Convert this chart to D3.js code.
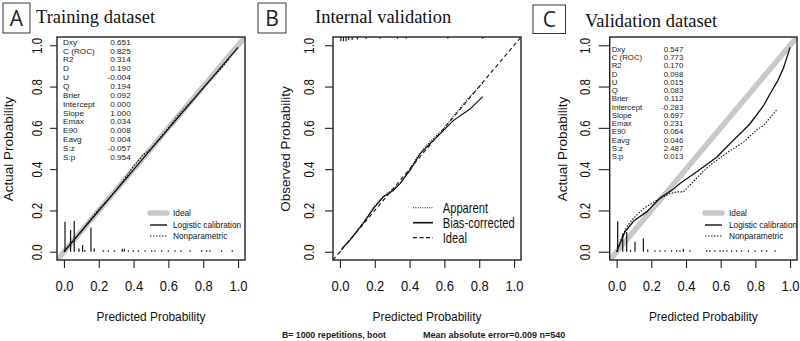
<!DOCTYPE html>
<html><head><meta charset="utf-8">
<script src="https://cdn.jsdelivr.net/npm/d3@7"></script>
<style>body{margin:0;background:#fff}</style>
</head><body>
<svg id="c" width="800" height="341" xmlns="http://www.w3.org/2000/svg"></svg>
<script>
// ---------------- data ----------------
const tickValues = [0, 0.2, 0.4, 0.6, 0.8, 1.0];
const statLabels = ["Dxy","C (ROC)","R2","D","U","Q","Brier","Intercept","Slope","Emax","E90","Eavg","S:z","S:p"];
const statsTrain = ["0.651","0.825","0.314","0.190","-0.004","0.194","0.092","0.000","1.000","0.034","0.008","0.004","-0.057","0.954"];
const statsValid = ["0.547","0.773","0.170","0.098","0.015","0.083","0.112","-0.283","0.697","0.231","0.064","0.046","2.487","0.013"];

const idealLine = [[-0.04,-0.04],[1.04,1.04]];

// Panel A: training
const trainLogistic = [[0.0,0.0],[0.5,0.497],[1.0,0.99]];
const trainNonpar = [[0,0],[0.05,0.05],[0.1,0.1],[0.15,0.155],[0.2,0.205],[0.25,0.25],[0.3,0.3],[0.35,0.355],[0.4,0.415],[0.45,0.465],[0.5,0.5],[0.55,0.55],[0.6,0.6],[0.65,0.655],[0.7,0.7],[0.75,0.745],[0.8,0.795],[0.85,0.84],[0.9,0.885],[0.95,0.935]];
const trainSpikeX = [0.006,0.038,0.059,0.086,0.107,0.12,0.155,0.174,0.226,0.255,0.289,0.335,0.347,0.37,0.398,0.427,0.466,0.504,0.523,0.561,0.599,0.638,0.672,0.724,0.791,0.82,0.839,0.906,0.967];
const trainSpikeH = [0.145,0.105,0.149,0.016,0.032,0.008,0.117,0.016,0.007,0.007,0.007,0.014,0.014,0.007,0.007,0.007,0.007,0.007,0.007,0.007,0.007,0.007,0.007,0.007,0.007,0.007,0.007,0.007,0.007];

// Panel B: internal validation (bootstrap)
const bootApparent = [[0.0,0.0],[0.05,0.05],[0.1,0.105],[0.15,0.16],[0.2,0.225],[0.25,0.27],[0.3,0.3],[0.35,0.335],[0.4,0.4],[0.45,0.465],[0.48,0.5],[0.52,0.535],[0.556,0.565],[0.6,0.6],[0.65,0.655],[0.7,0.705],[0.75,0.755],[0.82,0.815]];
const bootBias = [[0.01,0.015],[0.057,0.056],[0.134,0.137],[0.192,0.209],[0.249,0.265],[0.306,0.297],[0.345,0.33],[0.402,0.394],[0.46,0.474],[0.517,0.523],[0.575,0.571],[0.651,0.635],[0.747,0.691],[0.82,0.751]];
const bootRugX = [0.005,0.02,0.035,0.05,0.07,0.1,0.15,0.23,0.33,0.38,0.62,0.82];
const bootRugH = [0.02,0.02,0.02,0.015,0.015,0.012,0.01,0.008,0.008,0.008,0.008,0.008];

// Panel C: validation
const validLogistic = [[0,0.0],[0.048,0.096],[0.1,0.15],[0.173,0.193],[0.25,0.26],[0.317,0.297],[0.365,0.331],[0.46,0.386],[0.577,0.458],[0.654,0.524],[0.731,0.587],[0.769,0.62],[0.846,0.706],[0.885,0.765],[0.93,0.83],[0.962,0.89],[0.985,0.95],[1.0,0.99]];
const validNonpar = [[0,0.0],[0.03,0.07],[0.058,0.12],[0.096,0.161],[0.154,0.209],[0.231,0.249],[0.308,0.282],[0.35,0.29],[0.385,0.29],[0.42,0.32],[0.46,0.355],[0.5,0.39],[0.556,0.43],[0.654,0.49],[0.731,0.53],[0.808,0.59],[0.846,0.611],[0.923,0.687]];
const validSpikeX = [0.006,0.035,0.058,0.08,0.106,0.154,0.179,0.221,0.25,0.279,0.317,0.346,0.365,0.385,0.423,0.519,0.538,0.567,0.596,0.615,0.635,0.663,0.692,0.721,0.76,0.798,0.837,0.865,0.913];
const validSpikeH = [0.148,0.088,0.096,0.01,0.048,0.064,0.011,0.007,0.007,0.007,0.007,0.007,0.007,0.014,0.007,0.007,0.007,0.007,0.007,0.007,0.007,0.007,0.007,0.007,0.007,0.007,0.007,0.007,0.007];

// ---------------- drawing ----------------
const svg = d3.select("#c");
const SANS = "Liberation Sans, Arial, sans-serif";
const SERIF = "Liberation Serif, Times New Roman, serif";

function txt(g, x, y, s, o) {
  o = o || {};
  return g.append("text")
    .attr("transform", `translate(${x},${y})${o.rot ? ` rotate(${o.rot})` : ""} scale(${o.sx || 1},1)`)
    .attr("font-family", o.ff || SANS)
    .attr("font-size", o.fs || 10)
    .attr("font-weight", o.fw || "normal")
    .attr("text-anchor", o.anchor || "start")
    .attr("fill", o.fill || "#111")
    .text(s);
}

let clipId = 0;
function panel(cfg) {
  const g = svg.append("g");
  const x = d3.scaleLinear().domain([-0.04, 1.04]).range([cfg.x0, cfg.x1]);
  const y = d3.scaleLinear().domain([-0.04, 1.04]).range([260, 37]);
  const id = "clip" + (clipId++);
  g.append("clipPath").attr("id", id).append("rect")
    .attr("x", cfg.x0).attr("y", 37).attr("width", cfg.x1 - cfg.x0).attr("height", 223);
  const plot = g.append("g").attr("clip-path", `url(#${id})`);
  const line = d3.line().x(d => x(d[0])).y(d => y(d[1]));

  // x axis
  const xa = g.append("g").attr("transform", "translate(0,260)")
    .call(d3.axisBottom(x).tickValues(tickValues).tickSize(8).tickFormat(d3.format(".1f")));
  xa.select(".domain").remove();
  xa.selectAll(".tick line").attr("stroke", "#222").attr("stroke-width", 1.1);
  xa.selectAll(".tick text").attr("y", null).attr("dy", null)
    .attr("font-family", SANS).attr("font-size", 15).attr("fill", "#111")
    .attr("transform", "translate(0,30.5) scale(0.87,1)");
  // y axis
  const ya = g.append("g").attr("transform", `translate(${cfg.x0},0)`)
    .call(d3.axisLeft(y).tickValues(tickValues).tickSize(cfg.tl).tickFormat(d3.format(".1f")));
  ya.select(".domain").remove();
  ya.selectAll(".tick line").attr("stroke", "#222").attr("stroke-width", 1.1);
  ya.selectAll(".tick text").attr("x", null).attr("dy", null).attr("text-anchor", "middle")
    .attr("font-family", SANS).attr("font-size", 15).attr("fill", "#111")
    .attr("transform", `translate(${-cfg.lblOff},0) rotate(-90) scale(0.76,1)`);

  // titles
  txt(g, (cfg.x0 + cfg.x1) / 2, 321, "Predicted Probability", {fs: 13.5, sx: 0.88, anchor: "middle"});
  txt(g, cfg.ytx, 149, cfg.ytitle, {fs: 13.5, rot: -90, anchor: "middle"});
  g.append("rect").attr("x", cfg.bx[0]).attr("y", cfg.bx[1]).attr("width", cfg.bx[2]).attr("height", cfg.bx[3])
    .attr("fill", "none").attr("stroke", "#333").attr("stroke-width", 1);
  txt(g, cfg.bx[0] + cfg.bx[2] / 2, cfg.bx[1] + cfg.bx[3] / 2 + 7.5, cfg.letter, {fs: 21, ff: "Open Sans, Noto Sans, sans-serif", anchor: "middle", fill: "#222"});
  txt(g, cfg.tx, cfg.ty, cfg.title, {fs: 18.5, ff: SERIF, fill: "#111"});

  return {g, plot, x, y, line};
}

function frame(p, cfg) {
  p.g.append("rect").attr("x", cfg.x0).attr("y", 37).attr("width", cfg.x1 - cfg.x0).attr("height", 223)
    .attr("fill", "none").attr("stroke", "#222").attr("stroke-width", 1.4);
}

function spikes(p, xs, hs, base) {
  p.plot.selectAll(null).data(xs).enter().append("line")
    .attr("x1", d => p.x(d)).attr("x2", d => p.x(d))
    .attr("y1", p.y(base)).attr("y2", (d, i) => p.y(base + hs[i]))
    .attr("stroke", "#111").attr("stroke-width", 1.2);
}

function stats(p, lx, rx, y0, dy, values, fs, sx) {
  statLabels.forEach((s, i) => {
    txt(p.g, lx, y0 + i * dy, s, {fs: fs, sx: sx, fill: "#222"});
    txt(p.g, rx, y0 + i * dy, values[i], {fs: fs, sx: sx, anchor: "end", fill: "#222"});
  });
}

function calibLegend(p, lx0, lx1, tx, ys) {
  const items = [
    {t: "Ideal", s: "#c8c8c8", w: 5.5, d: null, cap: "round"},
    {t: "Logistic calibration", s: "#111", w: 1.4, d: null, cap: "butt"},
    {t: "Nonparametric", s: "#111", w: 1.2, d: "1.5,1.5", cap: "butt"}
  ];
  items.forEach((it, i) => {
    p.g.append("line").attr("x1", lx0).attr("x2", lx1).attr("y1", ys[i]).attr("y2", ys[i])
      .attr("stroke", it.s).attr("stroke-width", it.w).attr("stroke-dasharray", it.d).attr("stroke-linecap", it.cap);
    txt(p.g, tx, ys[i] + 3.3, it.t, {fs: 9.2, sx: 0.9, fill: "#111"});
  });
}

// ----- Panel A -----
const cfgA = {x0: 57, x1: 245, tl: 7, lblOff: 15.5, ytx: 13, ytitle: "Actual Probability",
  bx: [3, 3, 27, 30], letter: "A", tx: 36, ty: 22.5, title: "Training dataset"};
const A = panel(cfgA);
A.plot.append("path").attr("d", A.line(idealLine)).attr("fill", "none").attr("stroke", "#c8c8c8").attr("stroke-width", 5.5);
spikes(A, trainSpikeX, trainSpikeH, 0);
A.plot.append("path").attr("d", A.line(trainLogistic)).attr("fill", "none").attr("stroke", "#111").attr("stroke-width", 1.3);
A.plot.append("path").attr("d", A.line(trainNonpar)).attr("fill", "none").attr("stroke", "#111").attr("stroke-width", 1.1).attr("stroke-dasharray", "1.5,1.5");
stats(A, 63, 130.7, 44.7, 8.85, statsTrain, 7.6, 1.08);
calibLegend(A, 150, 167, 173, [213, 225, 236]);
frame(A, cfgA);

// ----- Panel B -----
const cfgB = {x0: 333, x1: 521, tl: 8, lblOff: 19, ytx: 290, ytitle: "Observed Probability",
  bx: [258, 3, 28, 30], letter: "B", tx: 315, ty: 23, title: "Internal validation"};
const B = panel(cfgB);
B.plot.append("path").attr("d", B.line(idealLine)).attr("fill", "none").attr("stroke", "#111").attr("stroke-width", 1.1).attr("stroke-dasharray", "4,3");
B.plot.append("path").attr("d", B.line(bootApparent)).attr("fill", "none").attr("stroke", "#111").attr("stroke-width", 1.1).attr("stroke-dasharray", "1,1.3");
B.plot.append("path").attr("d", B.line(bootBias)).attr("fill", "none").attr("stroke", "#111").attr("stroke-width", 1.2);
B.plot.selectAll(null).data(bootRugX).enter().append("line")
  .attr("x1", d => B.x(d)).attr("x2", d => B.x(d))
  .attr("y1", B.y(1.04)).attr("y2", (d, i) => B.y(1.04 - bootRugH[i]))
  .attr("stroke", "#111").attr("stroke-width", 1.1);
[
  {t: "Apparent", d: "1,1.3", w: 1.1},
  {t: "Bias-corrected", d: null, w: 1.6},
  {t: "Ideal", d: "4,2.5", w: 1.2}
].forEach((it, i) => {
  const yy = 207.7 + i * 15;
  B.g.append("line").attr("x1", 413).attr("x2", 433).attr("y1", yy).attr("y2", yy)
    .attr("stroke", "#111").attr("stroke-width", it.w).attr("stroke-dasharray", it.d);
  txt(B.g, 442.7, yy + 5, it.t, {fs: 14, sx: 0.8});
});
txt(B.g, 282, 337.5, "B= 1000 repetitions, boot", {fs: 9.5, fw: "bold", sx: 0.92, fill: "#222"});
txt(B.g, 423, 337.5, "Mean absolute error=0.009 n=540", {fs: 9.5, fw: "bold", sx: 0.95, fill: "#222"});
frame(B, cfgB);

// ----- Panel C -----
const cfgC = {x0: 609.7, x1: 797, tl: 11, lblOff: 19.5, ytx: 567, ytitle: "Actual Probability",
  bx: [533, 5, 32.5, 28.5], letter: "C", tx: 585, ty: 27, title: "Validation dataset"};
const C = panel(cfgC);
C.plot.append("path").attr("d", C.line(idealLine)).attr("fill", "none").attr("stroke", "#c8c8c8").attr("stroke-width", 5.5);
spikes(C, validSpikeX, validSpikeH, 0);
C.plot.append("path").attr("d", C.line(validLogistic)).attr("fill", "none").attr("stroke", "#111").attr("stroke-width", 1.3);
C.plot.append("path").attr("d", C.line(validNonpar)).attr("fill", "none").attr("stroke", "#111").attr("stroke-width", 1.1).attr("stroke-dasharray", "1.5,1.5");
stats(C, 611.7, 683.3, 52, 8.23, statsValid, 7.0, 1.12);
calibLegend(C, 705, 722, 729, [213, 225, 236]);
frame(C, cfgC);
</script>
</body></html>
